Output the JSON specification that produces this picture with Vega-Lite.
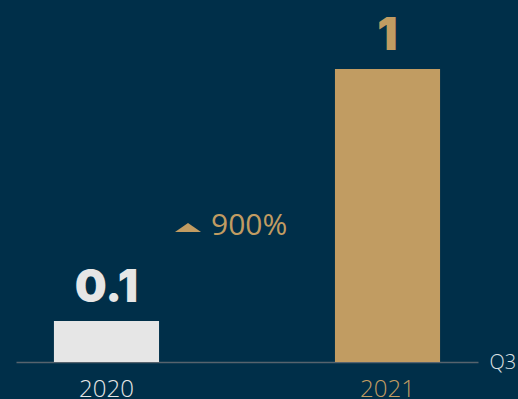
{
  "$schema": "https://vega.github.io/schema/vega-lite/v6.json",
  "width": 462,
  "height": 352,
  "autosize": {"type": "none"},
  "padding": {"left": 16, "top": 10, "right": 40, "bottom": 37},
  "background": "#002f49",
  "config": {"view": {"stroke": null}},
  "data": {"values": [
    {"year": "2020", "value": 0.1, "label": "0.1", "change": ""},
    {"year": "2021", "value": 1, "label": "1", "change": "900%"}
  ]},
  "encoding": {
    "x": {
      "field": "year", "type": "nominal",
      "scale": {"paddingInner": 0.626, "paddingOuter": 0.135},
      "axis": {
        "title": "Q3", "titleAngle": 0, "titleX": 473, "titleY": 0,
        "titleAlign": "left", "titleBaseline": "middle",
        "titleFont": "Open Sans", "titleFontWeight": 300, "titleFontSize": 20, "titleColor": "#dde1e4",
        "labelAngle": 0, "labelFont": "Open Sans", "labelFontWeight": 300, "labelFontSize": 24,
        "labelPadding": 15,
        "labelColor": {"condition": {"test": "datum.value == '2021'", "value": "#c19c62"}, "value": "#e6e6e6"},
        "ticks": false, "domainColor": "#56636e", "domainWidth": 1.5
      }
    }
  },
  "layer": [
    {
      "mark": {"type": "bar"},
      "encoding": {
        "y": {"field": "value", "type": "quantitative", "scale": {"domain": [-0.0464, 1.2107], "zero": false, "nice": false}, "axis": null},
        "y2": {"datum": -0.0464},
        "color": {"field": "year", "type": "nominal", "scale": {"domain": ["2020", "2021"], "range": ["#e6e6e6", "#c19c62"]}, "legend": null}
      }
    },
    {
      "mark": {"type": "text", "font": "Inter", "fontWeight": 900, "fontSize": 45, "baseline": "alphabetic", "dy": -19},
      "encoding": {
        "y": {"field": "value", "type": "quantitative"},
        "text": {"field": "label"},
        "color": {"field": "year", "type": "nominal"}
      }
    },
    {
      "transform": [{"filter": "datum.change != ''"}],
      "mark": {"type": "point", "shape": "M-1,0.35L0,-0.35L1,0.35Z", "filled": true, "size": 676, "color": "#c19c62", "opacity": 1, "xOffset": -199.5},
      "encoding": {
        "y": {"datum": 0.4339, "type": "quantitative"}
      }
    },
    {
      "transform": [{"filter": "datum.change != ''"}],
      "mark": {"type": "text", "font": "Open Sans", "fontWeight": 500, "fontSize": 30, "align": "left", "baseline": "middle", "color": "#c19c62", "dx": -176.5},
      "encoding": {
        "y": {"datum": 0.441, "type": "quantitative"},
        "text": {"field": "change"}
      }
    }
  ]
}
